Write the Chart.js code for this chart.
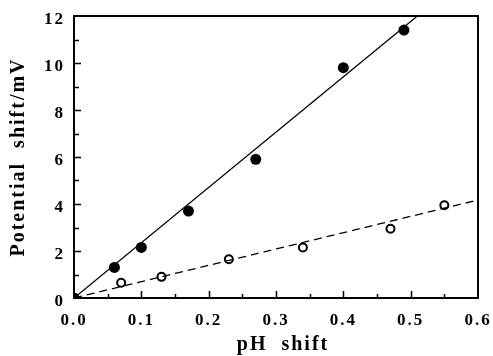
<!DOCTYPE html>
<html>
<head>
<meta charset="utf-8">
<script src="https://cdn.jsdelivr.net/npm/chart.js@4/dist/chart.umd.min.js"></script>
<style>
    body { margin: 0; background: #fff; }
    canvas { display: block; }
</style>
</head>
<body>
<canvas id="myChart" width="493" height="356"></canvas>
<script>
(function(){
    'use strict';

    // filled circles
    const filledX = [0, 0.06, 0.1, 0.17, 0.27, 0.4, 0.49];
    const filledY = [0, 1.3, 2.15, 3.7, 5.9, 9.8, 11.4];

    // open circles
    const openX = [0.07, 0.13, 0.23, 0.34, 0.47, 0.55];
    const openY = [0.65, 0.9, 1.65, 2.15, 2.95, 3.95];

    // fitted lines
    const solidX = [0, 0.51];
    const solidY = [0, 12];
    const dashX = [0, 0.6];
    const dashY = [0, 4.17];

    const xTickLabels = ['0.0', '0.1', '0.2', '0.3', '0.4', '0.5', '0.6'];
    const yTickLabels = ['0', '2', '4', '6', '8', '10', '12'];
    const xMajor = [0.1, 0.2, 0.3, 0.4, 0.5];
    const xMinor = [0.05, 0.15, 0.25, 0.35, 0.45, 0.55];
    const yMajor = [2, 4, 6, 8, 10];
    const yMinor = [1, 3, 5, 7, 9, 11];

    function pts(xs, ys){
        return xs.map(function(x, i){ return {x: x, y: ys[i]}; });
    }

    const serif = 'Liberation Serif, Times New Roman, serif';

    // wide letter spacing like the printed figure
    const spacing = {
        id: 'spacing',
        beforeLayout: function(chart){ chart.ctx.letterSpacing = '2px'; },
        beforeDraw: function(chart){ chart.ctx.letterSpacing = '2px'; }
    };

    // frame and inward tick marks
    const frame = {
        id: 'frame',
        afterDraw: function(chart){
            const c = chart.ctx;
            const a = chart.chartArea;
            const xs = chart.scales.x;
            const ys = chart.scales.y;
            c.save();
            c.strokeStyle = '#000';
            c.lineWidth = 1.5;
            c.beginPath();
            xMajor.forEach(function(v){
                const p = Math.round(xs.getPixelForValue(v)) + 0.5;
                c.moveTo(p, a.bottom); c.lineTo(p, a.bottom - 7);
            });
            xMinor.forEach(function(v){
                const p = Math.round(xs.getPixelForValue(v)) + 0.5;
                c.moveTo(p, a.bottom); c.lineTo(p, a.bottom - 4);
            });
            yMajor.forEach(function(v){
                const p = Math.round(ys.getPixelForValue(v)) + 0.5;
                c.moveTo(a.left, p); c.lineTo(a.left + 7, p);
            });
            yMinor.forEach(function(v){
                const p = Math.round(ys.getPixelForValue(v)) + 0.5;
                c.moveTo(a.left, p); c.lineTo(a.left + 5, p);
            });
            c.stroke();
            c.lineWidth = 2;
            c.strokeRect(a.left, a.top, a.right - a.left, a.bottom - a.top);
            c.restore();
        }
    };

    new Chart(document.querySelector('#myChart'), {
        type: 'scatter',
        data: {
            datasets: [
                {
                    type: 'line',
                    data: pts(solidX, solidY),
                    borderColor: '#000',
                    borderWidth: 1.3,
                    pointRadius: 0,
                    fill: false
                },
                {
                    type: 'line',
                    data: pts(dashX, dashY),
                    borderColor: '#000',
                    borderWidth: 1.3,
                    borderDash: [8, 5],
                    pointRadius: 0,
                    fill: false
                },
                {
                    data: pts(filledX, filledY),
                    pointRadius: 5.5,
                    pointBackgroundColor: '#000',
                    pointBorderColor: '#000',
                    pointBorderWidth: 0
                },
                {
                    data: pts(openX, openY),
                    pointRadius: 4,
                    pointBackgroundColor: '#fff',
                    pointBorderColor: '#000',
                    pointBorderWidth: 2
                }
            ]
        },
        options: {
            responsive: false,
            animation: false,
            layout: { padding: { top: 16, right: 15, left: 0, bottom: 0 } },
            plugins: {
                legend: { display: false },
                tooltip: { enabled: false }
            },
            scales: {
                x: {
                    type: 'linear',
                    min: 0,
                    max: 0.6,
                    afterFit: function(s){
                        s.height = 58;
                        s.paddingLeft = 0;
                        s.paddingRight = 0;
                    },
                    grid: { display: false, drawTicks: false },
                    border: { display: false },
                    ticks: {
                        stepSize: 0.1,
                        padding: 12,
                        color: '#000',
                        font: { family: serif, size: 17, weight: 'bold' },
                        callback: function(v, i){ return xTickLabels[i]; }
                    },
                    title: {
                        display: true,
                        text: '  pH  shift',
                        color: '#000',
                        padding: { top: 0, bottom: -1 },
                        font: { family: serif, size: 20, weight: 'bold' }
                    }
                },
                y: {
                    min: 0,
                    max: 12,
                    afterFit: function(s){
                        s.width = 74;
                        s.paddingTop = 0;
                        s.paddingBottom = 0;
                    },
                    grid: { display: false, drawTicks: false },
                    border: { display: false },
                    ticks: {
                        stepSize: 2,
                        padding: 9,
                        labelOffset: 4,
                        color: '#000',
                        font: { family: serif, size: 17, weight: 'bold' },
                        callback: function(v, i){ return yTickLabels[i]; }
                    },
                    title: {
                        display: true,
                        text: 'Potential  shift/mV',
                        color: '#000',
                        padding: { top: 7, bottom: 0 },
                        font: { family: serif, size: 20, weight: 'bold' }
                    }
                }
            }
        },
        plugins: [spacing, frame]
    });
})();
</script>
</body>
</html>
